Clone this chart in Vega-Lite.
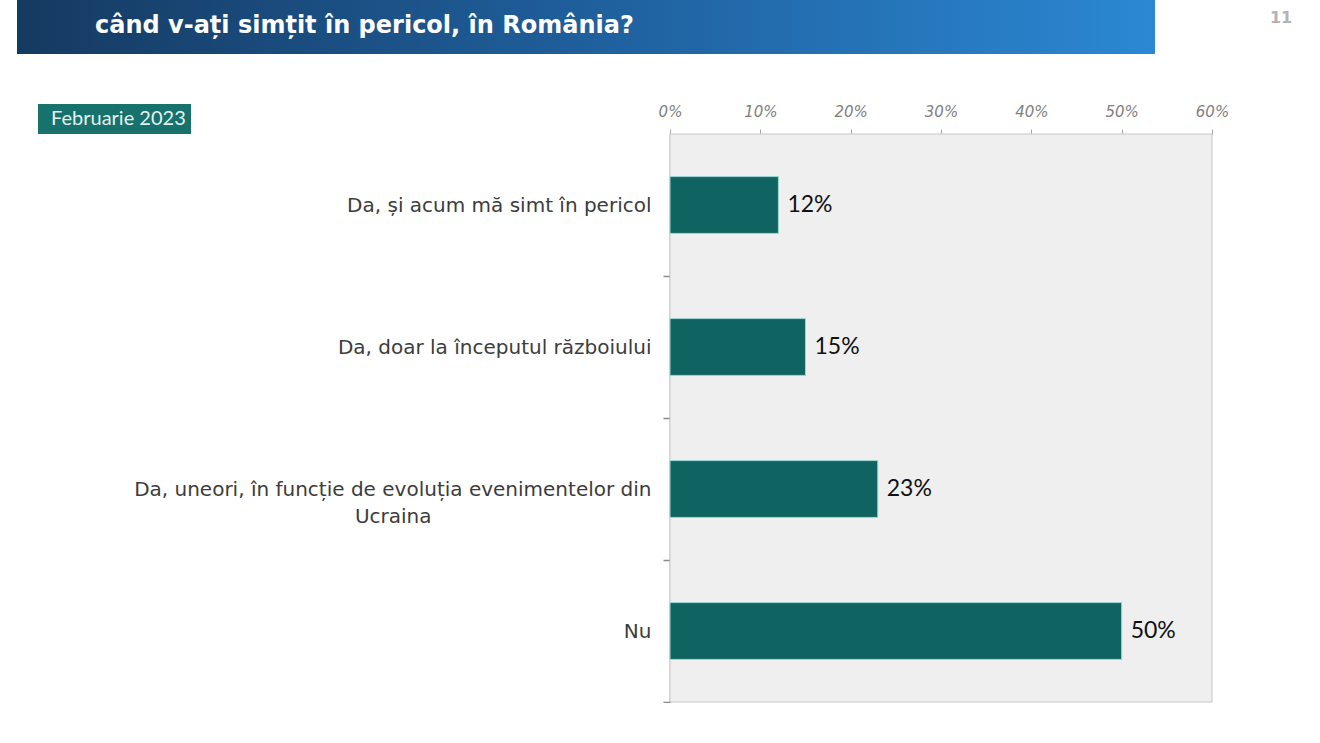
{
  "$schema": "https://vega.github.io/schema/vega-lite/v6.json",
  "background": "white",
  "padding": {"left": 17, "top": 0, "right": 0, "bottom": 0},
  "config": {"view": {"stroke": null}},
  "bounds": "full",
  "spacing": 50,
  "resolve": {"scale": {"color": "independent"}, "legend": {"color": "independent"}},
  "vconcat": [
    {
      "width": 1138,
      "height": 54,
      "data": {"values": [{"question": "când v-ați simțit în pericol, în România?", "page": "11"}]},
      "layer": [
        {
          "mark": {"type": "rect", "color": {"gradient": "linear", "x1": 0, "y1": 0, "x2": 1, "y2": 0, "stops": [{"offset": 0, "color": "#153a61"}, {"offset": 0.5, "color": "#1f5f9c"}, {"offset": 1, "color": "#2b88d3"}]}},
          "encoding": {}
        },
        {
          "mark": {"type": "text", "color": "white", "font": "DejaVu Sans", "fontWeight": "bold", "fontSize": 24, "align": "left", "baseline": "alphabetic", "dx": -491, "dy": 6},
          "encoding": {"text": {"field": "question"}}
        },
        {
          "mark": {"type": "text", "color": "#b3b3b3", "font": "DejaVu Sans", "fontWeight": "bold", "fontSize": 16, "align": "center", "baseline": "middle", "dx": 695, "dy": -9},
          "encoding": {"text": {"field": "page"}}
        }
      ]
    },
    {
      "width": 1195,
      "height": 568,
      "layer": [
        {
          "data": {"values": [{"panel": "plot area"}]},
          "mark": {"type": "rect", "fill": "#efefef", "stroke": "#c8c8c8", "strokeWidth": 1},
          "encoding": {
            "x": {"datum": 0, "type": "quantitative", "scale": {"domain": [0, 0.6], "range": [653, 1195]}},
            "x2": {"datum": 0.6}
          }
        },
        {
          "data": {"values": [
            {"answer": "Da, și acum mă simt în pericol", "pct": 0.12, "period": "Februarie 2023"},
            {"answer": "Da, doar la începutul războiului", "pct": 0.15, "period": "Februarie 2023"},
            {"answer": "Da, uneori, în funcție de evoluția evenimentelor din Ucraina", "pct": 0.23, "period": "Februarie 2023"},
            {"answer": "Nu", "pct": 0.50, "period": "Februarie 2023"}
          ]},
          "encoding": {
            "y": {
              "field": "answer", "type": "nominal", "sort": null,
              "scale": {"paddingInner": 0.6, "paddingOuter": 0.3},
              "axis": {
                "title": null, "offset": -653,
                "domainColor": "#8a8a8a", "domainWidth": 1.5, "tickColor": "#8a8a8a", "tickWidth": 1.5, "tickSize": 7,
                "bandPosition": 1, "tickOffset": 43, "labelOffset": -43,
                "labelFont": "DejaVu Sans", "labelFontSize": 20, "labelColor": "#3c3c3c", "labelPadding": 12, "labelLimit": 700, "labelLineHeight": 27,
                "labelExpr": "indexof(datum.value, 'Ucraina') >= 0 ? ['Da, uneori, în funcție de evoluția evenimentelor din', pad('Ucraina', 18, '\u2003') + '\u2060'] : datum.value"
              }
            },
            "x": {
              "field": "pct", "type": "quantitative",
              "axis": {
                "orient": "top", "title": null, "values": [0, 0.1, 0.2, 0.3, 0.4, 0.5, 0.6], "format": ".0%", "grid": false,
                "domain": false, "tickColor": "#a6a6a6", "tickSize": 5,
                "labelFont": "DejaVu Sans", "labelFontStyle": "italic", "labelFontSize": 15, "labelColor": "#808080", "labelPadding": 10, "labelFlush": false
              }
            }
          },
          "layer": [
            {
              "mark": {"type": "bar", "stroke": "#9fd6d4", "strokeWidth": 1},
              "encoding": {
                "color": {
                  "field": "period", "type": "nominal",
                  "scale": {"range": ["#0f6461"]},
                  "legend": {
                    "title": null, "orient": "none", "legendX": 21, "legendY": -30,
                    "fillColor": "#17716c", "padding": 5,
                    "symbolSize": 0, "symbolStrokeWidth": 0, "symbolOpacity": 0,
                    "labelOffset": -12, "labelFont": "Lato", "labelFontSize": 20, "labelColor": "#e3f4f1"
                  }
                }
              }
            },
            {
              "mark": {"type": "text", "align": "left", "baseline": "middle", "dx": 9, "font": "Lato", "fontSize": 23, "color": "#111111"},
              "encoding": {"text": {"field": "pct", "type": "quantitative", "format": ".0%"}}
            }
          ]
        }
      ]
    }
  ]
}
